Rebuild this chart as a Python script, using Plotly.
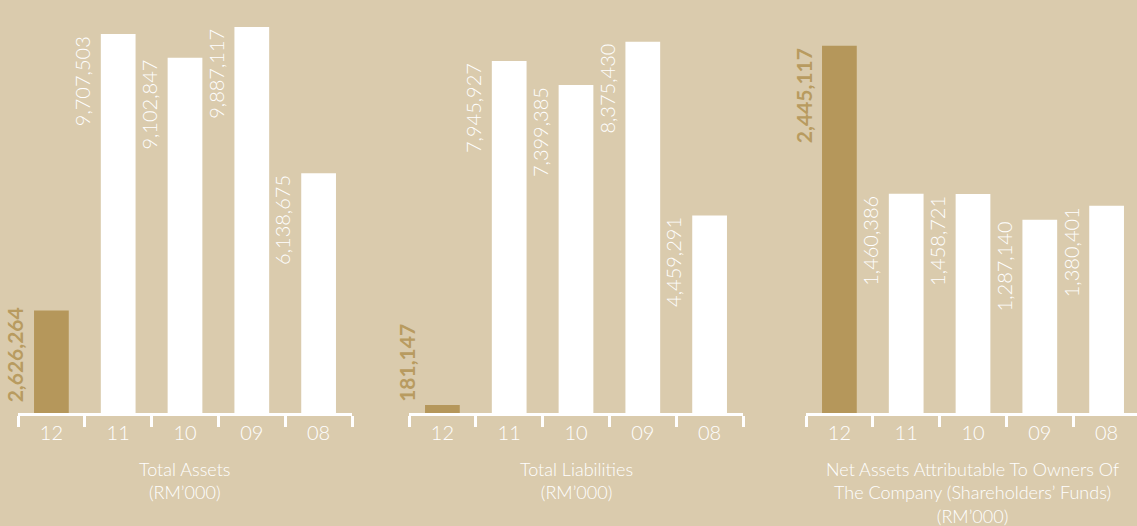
import plotly.graph_objects as go

years = ["12", "11", "10", "09", "08"]
total_assets = [2626264, 9707503, 9102847, 9887117, 6138675]
total_liabilities = [181147, 7945927, 7399385, 8375430, 4459291]
net_assets = [2445117, 1460386, 1458721, 1287140, 1380401]
titles = [
    "Total Assets<br>(RM’000)",
    "Total Liabilities<br>(RM’000)",
    "Net Assets Attributable To Owners Of<br>The Company (Shareholders’ Funds)<br>(RM’000)",
]

BG = "#dacbad"
GOLD = "#b5975b"
GOLD_TXT = "#b89b60"
WHITE = "#ffffff"
FONT = "Lato"

W, H = 1137, 526
PLOT_H = 413  # plot area height in px (margin bottom = H - PLOT_H)

panels = [
    dict(vals=total_assets, left=18, right=352, ymax=10.58e6, xr=[-0.5, 4.5]),
    dict(vals=total_liabilities, left=409, right=743, ymax=9.32e6, xr=[-0.5, 4.5]),
    dict(vals=net_assets, left=806, right=1137, ymax=2.75e6, xr=[-0.5, -0.5 + 331 / 66.8]),
]

fig = go.Figure()
annotations = []
layout_axes = {}
for k, p in enumerate(panels):
    n = "" if k == 0 else str(k + 1)
    colors = [GOLD] + [WHITE] * (len(years) - 1)
    fig.add_trace(go.Bar(
        x=years, y=p["vals"], marker=dict(color=colors, line=dict(width=0)),
        width=0.52, xaxis="x" + n, yaxis="y" + n, hoverinfo="skip", showlegend=False,
    ))
    layout_axes["xaxis" + n] = dict(
        domain=[p["left"] / W, min(1.0, p["right"] / W)], anchor="y" + n,
        type="category", range=p["xr"], tickson="boundaries",
        ticks="outside", ticklen=11, tickwidth=2.5, tickcolor=WHITE,
        showline=True, linecolor=WHITE, linewidth=2.5, showgrid=False,
        zeroline=False, fixedrange=True,
        tickfont=dict(family=FONT, size=20, color=WHITE, weight=300),
    )
    layout_axes["yaxis" + n] = dict(
        domain=[0, 1], anchor="x" + n, range=[0, p["ymax"]], visible=False,
        showgrid=False, zeroline=False,
    )
    for i, v in enumerate(p["vals"]):
        bold = i == 0
        txt = f"{v:,}"
        bar_px = v / p["ymax"] * PLOT_H
        base_anchor = bar_px < 110
        annotations.append(dict(
            x=i - 0.33, y=0 if base_anchor else v,
            xref="x" + n, yref="y" + n,
            text=f"<b>{txt}</b>" if bold else txt,
            textangle=-90, showarrow=False,
            xanchor="right", yanchor="bottom" if base_anchor else "top",
            yshift=9 if base_anchor else 0,
            font=dict(family=FONT, size=21 if bold else 20,
                      color=GOLD_TXT if bold else WHITE,
                      weight=700 if bold else 300),
        ))
    cx = (p["left"] + p["right"]) / 2 / W
    if k == 2:
        cx = 972 / W
    annotations.append(dict(
        x=cx, y=(PLOT_H - 456) / PLOT_H, xref="paper", yref="paper",
        text=titles[k], showarrow=False, xanchor="center", yanchor="top",
        align="center",
        font=dict(family=FONT, size=18, color=WHITE, weight=300),
    ))

fig.update_layout(
    width=W, height=H, paper_bgcolor=BG, plot_bgcolor=BG,
    margin=dict(l=0, r=0, t=0, b=H - PLOT_H),
    annotations=annotations, bargap=0.48,
    **layout_axes,
)
fig.write_html("out.html", include_plotlyjs=True, full_html=True,
               config=dict(displayModeBar=False))
